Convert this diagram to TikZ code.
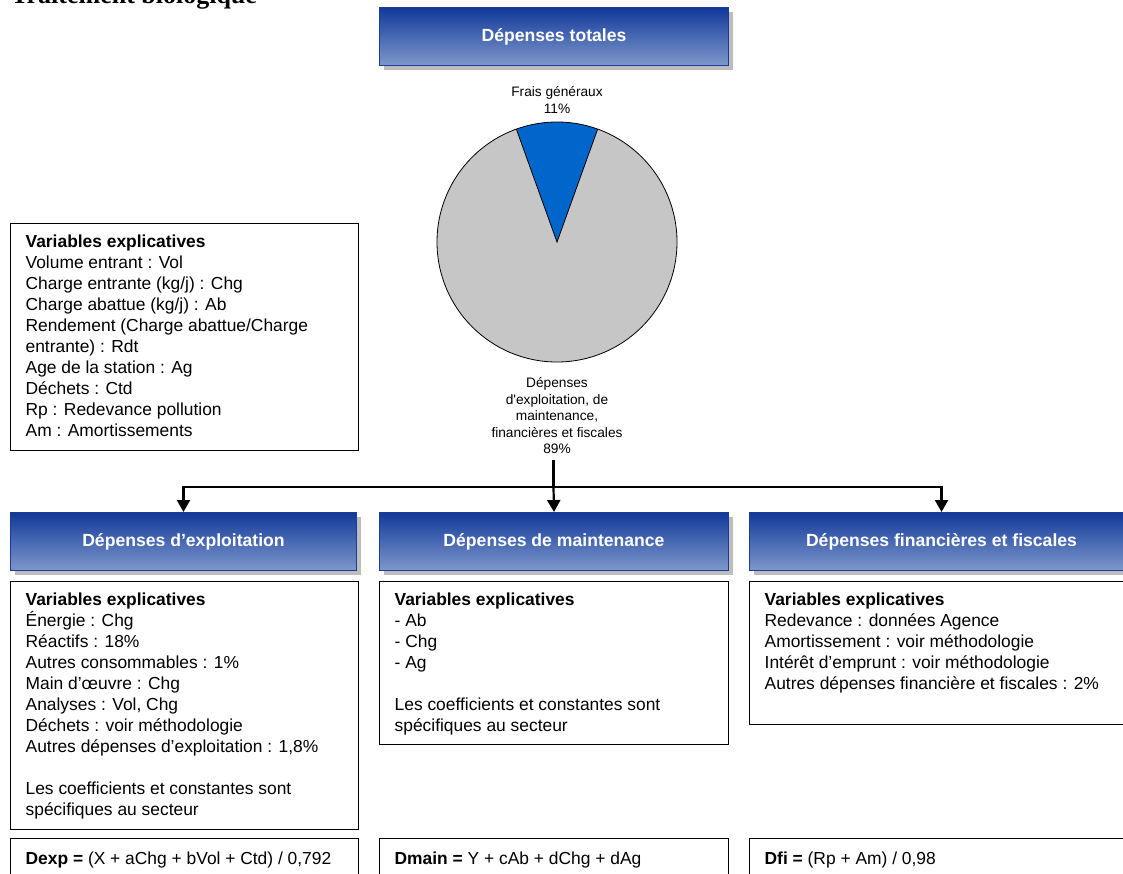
\documentclass[tikz,border=0pt]{standalone}
\usepackage{fontspec}
\setmainfont{Liberation Sans}
\newfontfamily\titlefont{Liberation Serif}
\usetikzlibrary{positioning,arrows.meta,shadows}
\definecolor{hdrTop}{HTML}{12399A}
\definecolor{hdrBot}{HTML}{7E98CB}
\definecolor{hdrLine}{HTML}{1E3C96}
\definecolor{hdrShadow}{HTML}{BDBDBD}
\definecolor{pieGray}{HTML}{C6C6C6}
\definecolor{pieBlue}{HTML}{0066CC}
\newcommand{\boxtext}[3]{\parbox[t][#2][t]{#1}{\raggedright #3}}
\tikzset{
    hdr/.style={
           rectangle,
           draw=hdrLine, line width=1pt,
           top color=hdrTop, bottom color=hdrBot,
           drop shadow={shadow xshift=4pt, shadow yshift=-4pt, fill=hdrShadow, opacity=1},
           text=white,
           font=\fontsize{17.6}{21}\selectfont\bfseries,
           minimum height=58pt,
           inner sep=0pt,
           anchor=north west,
           },
    varbox/.style={
           rectangle,
           draw=black, line width=1.3pt,
           fill=white,
           inner xsep=15pt, inner ysep=11pt,
           font=\fontsize{17.4}{21}\selectfont,
           anchor=north west,
           },
    pielabel/.style={
           align=center,
           font=\fontsize{13.7}{16.5}\selectfont,
           inner sep=2pt,
           },
    arr/.style={-{Triangle[width=13pt,length=12pt]}, line width=2.2pt},
}

\begin{document}
\begin{tikzpicture}[x=1pt,y=-1pt]
 \useasboundingbox (0,0) rectangle (1123,873);
 \clip (0,0) rectangle (1123,873);

 \node[anchor=base west, inner sep=0pt,
  font=\titlefont\bfseries\fontsize{26}{30}\selectfont] (title) at (11,3)
  {Traitement biologique};

 % total expenses and pie
 \node[hdr, minimum width=349pt] (htot) at (379,7) {Dépenses totales};

 \coordinate (pie) at (557,242);
 \fill[pieGray] (pie) circle[radius=120];
 \begin{scope}[shift={(pie)}]
  \clip (0,0) circle[radius=120];
  \fill[pieBlue] (0,0) -- (-109.8:200) -- (-70.2:200) -- cycle;
 \end{scope}
 \draw[line width=0.8pt] (pie) circle[radius=120];
 \draw[line width=0.8pt, shift={(pie)}] (-109.8:120) -- (0,0) -- (-70.2:120);

 \node[pielabel] (lfrais) at (557,100) {Frais généraux\\11\%};
 \node[pielabel] (ldep) at (557,416)
 {Dépenses\\d\textquotesingle exploitation, de\\maintenance,\\financières et fiscales\\89\%};

 \node[varbox] (vars) at (10,223)
 {\boxtext{318pt}{205pt}{\textbf{Variables explicatives}\\
 Volume entrant : Vol\\
 Charge entrante (kg/j) : Chg\\
 Charge abattue (kg/j) : Ab\\
 Rendement (Charge abattue/Charge\\
 entrante) : Rdt\\
 Age de la station : Ag\\
 Déchets : Ctd\\
 Rp : Redevance pollution\\
 Am : Amortissements}};

 % three expense blocks
 \node[hdr, minimum width=346pt] (hexp) at (10,512) {Dépenses d’exploitation};
 \node[hdr, minimum width=349pt] (hmain) at (379,512) {Dépenses de maintenance};
 \node[hdr, minimum width=384pt] (hfi) at (749,512) {Dépenses financières et fiscales};

 \node[varbox, below=10pt of hexp.south west, anchor=north west] (texp)
 {\boxtext{318pt}{226pt}{\textbf{Variables explicatives}\\
 Énergie : Chg\\
 Réactifs : 18\%\\
 Autres consommables : 1\%\\
 Main d’œuvre : Chg\\
 Analyses : Vol, Chg\\
 Déchets : voir méthodologie\\
 Autres dépenses d’exploitation : 1,8\%\\[21pt]
 Les coefficients et constantes sont\\
 spécifiques au secteur}};

 \node[varbox, below=10pt of hmain.south west, anchor=north west] (tmain)
 {\boxtext{319pt}{141pt}{\textbf{Variables explicatives}\\
 - Ab\\
 - Chg\\
 - Ag\\[21pt]
 Les coefficients et constantes sont\\
 spécifiques au secteur}};

 \node[varbox, below=10pt of hfi.south west, anchor=north west] (tfi)
 {\boxtext{354pt}{121pt}{\textbf{Variables explicatives}\\
 Redevance : données Agence\\
 Amortissement : voir méthodologie\\
 Intérêt d’emprunt : voir méthodologie\\
 Autres dépenses financière et fiscales : 2\%}};

 % formulas
 \node[varbox, inner ysep=13pt] (fexp) at (10,838)
 {\boxtext{318pt}{40pt}{\textbf{Dexp =} (X + aChg + bVol + Ctd) / 0,792}};
 \node[varbox, inner ysep=13pt] (fmain) at (379,838)
 {\boxtext{319pt}{40pt}{\textbf{Dmain =} Y + cAb + dChg + dAg}};
 \node[varbox, inner ysep=13pt] (ffi) at (749,838)
 {\boxtext{354pt}{40pt}{\textbf{Dfi =} (Rp + Am) / 0,98}};

 % connectors
 \coordinate (split) at (553.5,487);
 \draw[line width=2.2pt, shorten <=4pt] (ldep.south -| split) -- (split);
 \draw[arr] (split) -| (hexp.north);
 \draw[arr] (split) -- (hmain.north);
 \draw[arr] (split) -| (hfi.north);

\end{tikzpicture}
\end{document}
